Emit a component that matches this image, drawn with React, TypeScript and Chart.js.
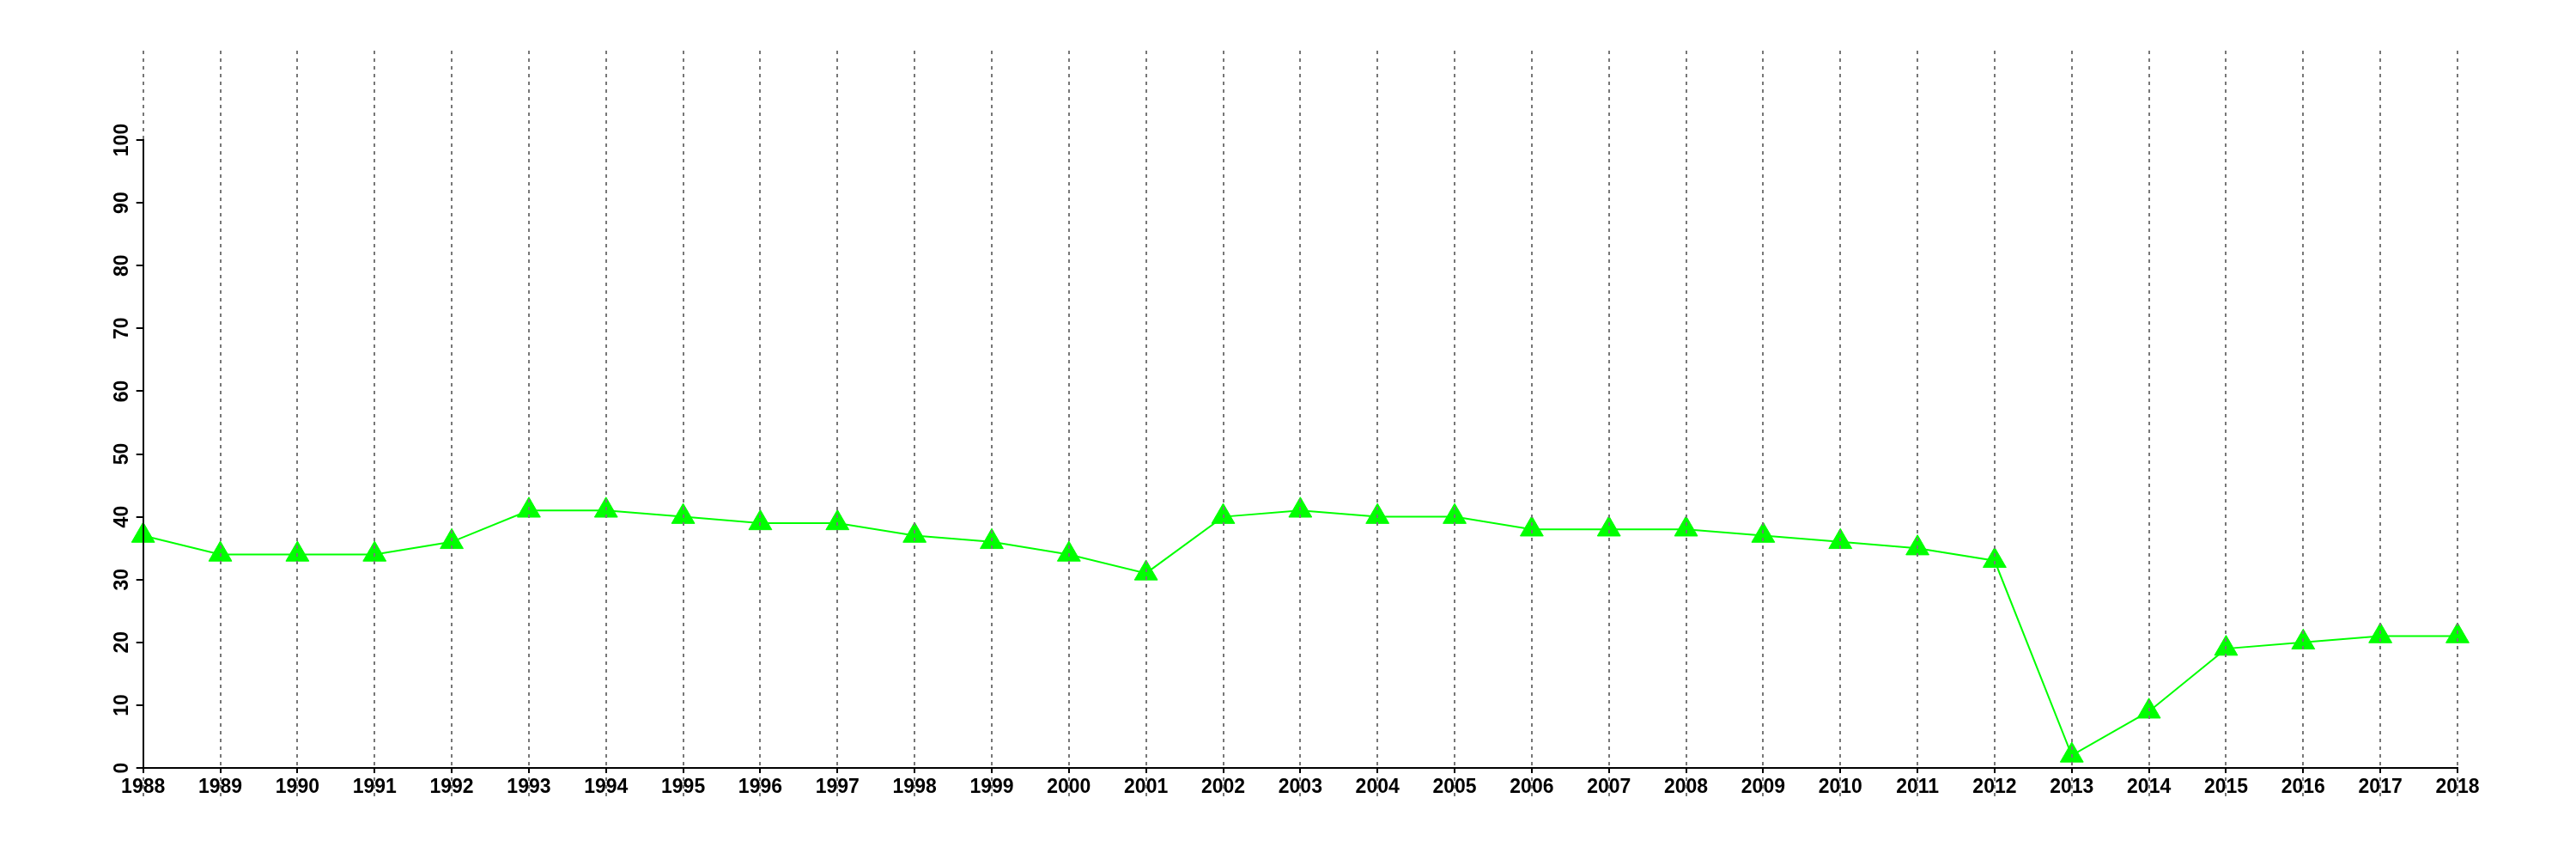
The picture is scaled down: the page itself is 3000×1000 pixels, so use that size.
import React, { useEffect, useRef } from "react";
import { Chart, registerables } from "chart.js";

Chart.register(...registerables);

const years: string[] = [
  "1988", "1989", "1990", "1991", "1992", "1993", "1994", "1995", "1996", "1997",
  "1998", "1999", "2000", "2001", "2002", "2003", "2004", "2005", "2006", "2007",
  "2008", "2009", "2010", "2011", "2012", "2013", "2014", "2015", "2016", "2017", "2018",
];

const values: number[] = [
  37, 34, 34, 34, 36, 41, 41, 40, 39, 39,
  37, 36, 34, 31, 40, 41, 40, 40, 38, 38,
  38, 37, 36, 35, 33, 2, 9, 19, 20, 21, 21,
];

const yMin = 0;
const yMax = 100;
const yStep = 10;

const FONT = { family: "'Liberation Sans', Arial, Helvetica, sans-serif", size: 23, weight: "bold" as const };

const dashedGridPlugin = {
  id: "dashedGrid",
  afterDatasetsDraw(chart: any) {
    const { ctx, chartArea, scales } = chart;
    const x = scales.x;
    const top = chartArea.top - 104;
    const bottom = chartArea.bottom + 33;
    ctx.save();
    ctx.strokeStyle = "#777777";
    ctx.lineWidth = 2;
    ctx.setLineDash([4, 5]);
    for (let i = 0; i < x.ticks.length; i++) {
      const px = Math.round(x.getPixelForTick(i));
      ctx.beginPath();
      ctx.moveTo(px, top);
      ctx.lineTo(px, bottom);
      ctx.stroke();
    }
    ctx.restore();
  },
};

export default function App() {
  const ref = useRef<HTMLCanvasElement | null>(null);

  useEffect(() => {
    if (!ref.current) return;
    const chart = new Chart(ref.current, {
      type: "line",
      data: {
        labels: years,
        datasets: [
          {
            data: values,
            borderColor: "#00ff00",
            backgroundColor: "#00ff00",
            borderWidth: 2,
            tension: 0,
            pointStyle: "triangle",
            pointRadius: 15.5,
            pointBorderWidth: 1,
            pointBackgroundColor: "#00ff00",
            pointBorderColor: "#00ff00",
          },
        ],
      },
      options: {
        responsive: false,
        animation: false,
        devicePixelRatio: 1,
        layout: { padding: { top: 163, left: 0, right: 138, bottom: 46 } },
        plugins: { legend: { display: false }, tooltip: { enabled: false }, title: { display: false } },
        scales: {
          x: {
            type: "category",
            offset: false,
            z: 1,
            grid: { drawOnChartArea: false, drawTicks: true, tickLength: 6, color: "#000", lineWidth: 2, z: 1 },
            border: { display: true, color: "#000", width: 2, z: 1 },
            ticks: { color: "#000", font: FONT, autoSkip: false, maxRotation: 0, minRotation: 0, padding: 3 },
            afterFit: (s: any) => { s.height = 60; },
          },
          y: {
            min: yMin,
            max: yMax,
            z: 1,
            grid: { drawOnChartArea: false, drawTicks: true, tickLength: 8, color: "#000", lineWidth: 2, z: 1 },
            border: { display: true, color: "#000", width: 2, z: 1 },
            ticks: {
              stepSize: yStep,
              color: "#000",
              font: FONT,
              minRotation: 90,
              maxRotation: 90,
              crossAlign: "center",
              padding: -3,
            },
            afterFit: (s: any) => { s.width = 166.7; },
          },
        },
      },
      plugins: [dashedGridPlugin],
    });
    return () => chart.destroy();
  }, []);

  return (
    <div style={{ position: "absolute", left: 0, top: 0, width: 3000, height: 1000, background: "#fff" }}>
      <canvas ref={ref} width={3000} height={1000} style={{ display: "block", width: 3000, height: 1000 }} />
    </div>
  );
}
